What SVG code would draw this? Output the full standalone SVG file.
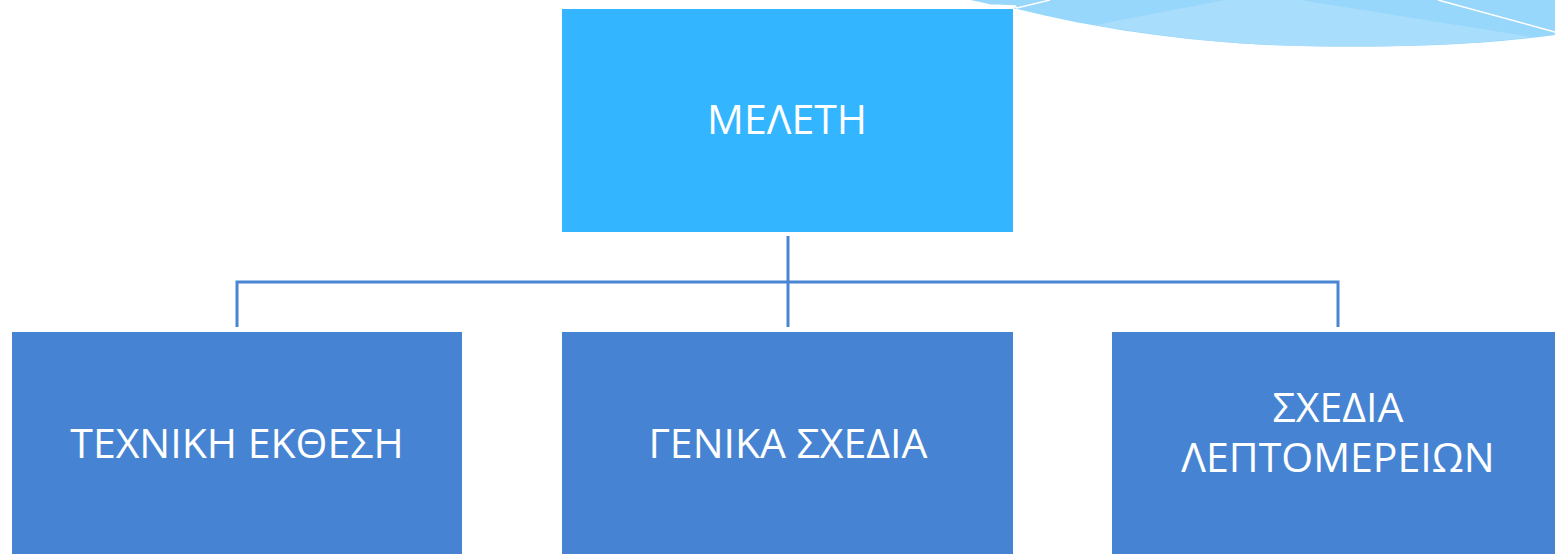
<svg xmlns="http://www.w3.org/2000/svg" width="1555" height="554" viewBox="0 0 1555 554">
<style>
.top{fill:#33b5ff}
.box{fill:#4684d3}
.lbl{font-family:"Open Sans","Noto Sans","DejaVu Sans",sans-serif;font-size:41px;fill:#ffffff;text-anchor:middle}
.conn{stroke:#4a86d4;stroke-width:3;fill:none}
</style>
<rect width="1555" height="554" fill="#ffffff"/>
<g id="wave">
<path d="M967,0 L990,5 L1015,6 L1017,8 L1050,0 Z" fill="#97d7fb"/>
<path d="M1013,8 L1050,0 L1555,0 L1555,35 C1480,45 1400,48 1300,46 C1200,44 1100,30 1013,8 Z" fill="#97d7fb"/>
<path d="M1095,25 L1225,0 L1300,0 L1532,37 C1470,44 1400,48 1300,46 C1220,44 1160,36 1095,25 Z" fill="#a8ddfb"/>
<path d="M1438,0 L1555,32" stroke="#ffffff" stroke-width="1.5" fill="none"/>
<path d="M967,0 L990,5 L1015,6 L1017,8 L1050,0" stroke="#ffffff" stroke-width="1.5" fill="none"/>
</g>
<g id="connectors">
<path class="conn" d="M788,236 V327"/>
<path class="conn" d="M237,327 V282 H1338 V327"/>
</g>
<g id="n-meleti">
<rect class="top" x="562" y="9" width="451" height="223"/>
<text class="lbl" x="787" y="134">ΜΕΛΕΤΗ</text>
</g>
<g id="n-techniki">
<rect class="box" x="12" y="332" width="450" height="230"/>
<text class="lbl" x="237" y="458">ΤΕΧΝΙΚΗ ΕΚΘΕΣΗ</text>
</g>
<g id="n-genika">
<rect class="box" x="562" y="332" width="451" height="230"/>
<text class="lbl" x="788" y="458">ΓΕΝΙΚΑ ΣΧΕΔΙΑ</text>
</g>
<g id="n-leptomereion">
<rect class="box" x="1112" y="332" width="451" height="230"/>
<text class="lbl" x="1338" y="422">ΣΧΕΔΙΑ</text>
<text class="lbl" x="1338" y="472">ΛΕΠΤΟΜΕΡΕΙΩΝ</text>
</g>
</svg>
